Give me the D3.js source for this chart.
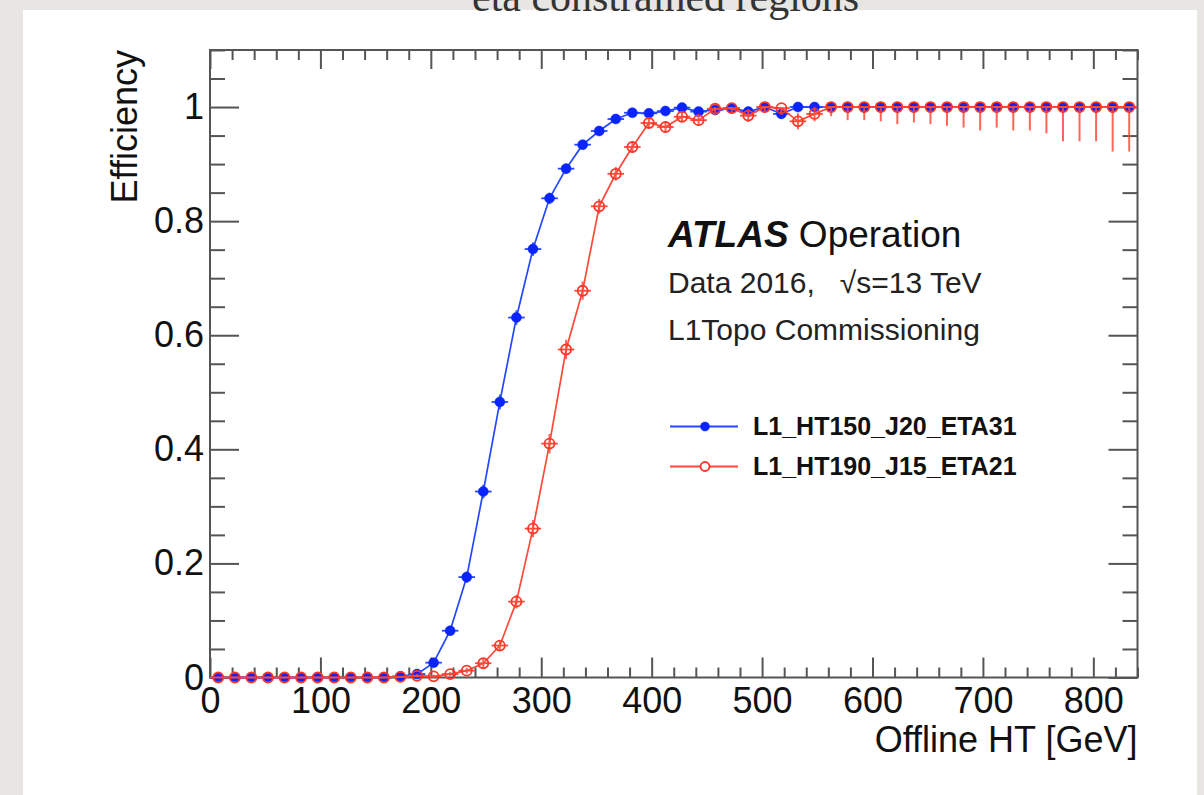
<!DOCTYPE html>
<html>
<head>
<meta charset="utf-8">
<script src="https://cdn.jsdelivr.net/npm/d3@7"></script>
<style>
  html, body { margin: 0; padding: 0; background: #e8e6e2; }
  svg { display: block; }
  text { font-family: "Liberation Sans", Arial, Helvetica, sans-serif; fill: #111; }
</style>
</head>
<body>
<svg id="chart" width="1204" height="795"></svg>
<script>
// ---- data ----
const htBins = [7.5,22.5,37.5,52.5,67.5,82.5,97.5,112.5,127.5,142.5,157.5,172.5,187.5,202.5,217.5,232.5,247.5,262.5,277.5,292.5,307.5,322.5,337.5,352.5,367.5,382.5,397.5,412.5,427.5,442.5,457.5,472.5,487.5,502.5,517.5,532.5,547.5,562.5,577.5,592.5,607.5,622.5,637.5,652.5,667.5,682.5,697.5,712.5,727.5,742.5,757.5,772.5,787.5,802.5,817.5,832.5];
const binHalfWidth = 7.5;

const effHT150 = [0,0,0,0,0,0,0,0,0,0,0,
  0.002,0.006,0.026,0.082,0.176,0.326,0.483,0.631,0.751,0.840,0.892,0.934,0.958,0.979,0.990,0.989,0.993,0.999,0.992,0.995,0.998,0.992,1.0,0.988,1.0,
  1,1,1,1,1,1,1,1,1,1,1,1,1,1,1,1,1,1,1,1];
const errHT150 = [0.001,0.001,0.001,0.001,0.001,0.001,0.001,0.001,0.001,0.001,0.001,
  0.002,0.003,0.005,0.008,0.010,0.012,0.013,0.013,0.012,0.010,0.009,0.008,0.006,0.005,
  0.004,0.004,0.004,0.004,0.004,0.004,0.004,0.004,0.004,0.004,0.004,
  0.005,0.005,0.005,0.005,0.005,0.005,0.005,0.005,0.005,0.005,0.005,0.005,0.005,0.005,0.005,0.005,0.005,0.005,0.005,0.005];

const effHT190 = [0,0,0,0,0,0,0,0,0,0,0,
  0.001,0.003,0.002,0.006,0.012,0.025,0.056,0.133,0.261,0.410,0.575,0.678,0.826,0.883,0.930,0.972,0.965,0.983,0.977,0.997,0.998,0.985,1.0,0.998,0.975,0.988,
  1,1,1,1,1,1,1,1,1,1,1,1,1,1,1,1,1,1,1];
const errHT190 = [0.001,0.001,0.001,0.001,0.001,0.001,0.001,0.001,0.001,0.001,0.001,
  0.002,0.003,0.003,0.004,0.005,0.007,0.009,0.012,0.015,0.017,0.017,0.016,0.013,0.012,0.010,
  0.009,0.010,0.009,0.010,0.008,0.008,0.011,0.010,0.012,0.014,0.013,
  0.016,0.023,0.023,0.025,0.030,0.027,0.030,0.033,0.036,0.041,0.036,0.041,0.041,0.046,0.060,0.060,0.060,0.078,0.078];

const seriesNames = ["L1_HT150_J20_ETA31", "L1_HT190_J15_ETA21"];
const xMajorTicks = [0,100,200,300,400,500,600,700,800];
const xTickLabels = ["0","100","200","300","400","500","600","700","800"];
const yMajorTicks = [0,0.2,0.4,0.6,0.8,1];
const yTickLabels = ["0","0.2","0.4","0.6","0.8","1"];

// ---- layout ----
const svg = d3.select("#chart");
const W = 1204, H = 795;
const L = 210, R = 1137.5, T = 50, B = 677.5;
const blue = "#0a24ff", blueLine = "#2448ff";
const red = "#ff3526", redLine = "#ff4a3a";

svg.append("rect").attr("x", 0).attr("y", 0).attr("width", W).attr("height", H).attr("fill", "#e8e6e2");
svg.append("rect").attr("x", 23).attr("y", 10).attr("width", 1174).attr("height", H - 10).attr("fill", "#ffffff");

svg.append("text").attr("x", 472).attr("y", 11)
  .style("font-family", "'Liberation Serif', 'DejaVu Serif', serif")
  .style("font-size", "42px").style("fill", "#333")
  .text("eta constrained regions");

const x = d3.scaleLinear().domain([0, 840]).range([L, R]);
const y = d3.scaleLinear().domain([0, 1.1]).range([B, T]);

const xMinor = d3.range(0, 841, 20).filter(v => v % 100 !== 0);
const yMinor = d3.range(0, 1.1001, 0.05).map(v => +v.toFixed(2)).filter(v => Math.abs(v*5 - Math.round(v*5)) > 1e-6);

function styleAxis(g) {
  g.select(".domain").remove();
  g.selectAll(".tick line").attr("stroke", "#555").attr("stroke-width", 2);
  g.selectAll("text").style("font-size", "36px").style("fill", "#111").attr("font-family", null);
}

svg.append("g").attr("transform", `translate(0,${B})`)
  .call(d3.axisBottom(x).tickValues(xMajorTicks).tickFormat((d,i) => xTickLabels[i]).tickSizeInner(-20).tickSizeOuter(0).tickPadding(10))
  .call(styleAxis);
svg.append("g").attr("transform", `translate(0,${B})`)
  .call(d3.axisBottom(x).tickValues(xMinor).tickFormat("").tickSizeInner(-10).tickSizeOuter(0))
  .call(styleAxis);
svg.append("g").attr("transform", `translate(0,${T})`)
  .call(d3.axisTop(x).tickValues(xMajorTicks).tickFormat("").tickSizeInner(-19).tickSizeOuter(0))
  .call(styleAxis);
svg.append("g").attr("transform", `translate(0,${T})`)
  .call(d3.axisTop(x).tickValues(xMinor).tickFormat("").tickSizeInner(-10).tickSizeOuter(0))
  .call(styleAxis);
svg.append("g").attr("transform", `translate(${L},0)`)
  .call(d3.axisLeft(y).tickValues(yMajorTicks).tickFormat((d,i) => yTickLabels[i]).tickSizeInner(-29).tickSizeOuter(0).tickPadding(6))
  .call(styleAxis);
svg.append("g").attr("transform", `translate(${L},0)`)
  .call(d3.axisLeft(y).tickValues(yMinor).tickFormat("").tickSizeInner(-15).tickSizeOuter(0))
  .call(styleAxis);
svg.append("g").attr("transform", `translate(${R},0)`)
  .call(d3.axisRight(y).tickValues(yMajorTicks).tickFormat("").tickSizeInner(-29).tickSizeOuter(0))
  .call(styleAxis);
svg.append("g").attr("transform", `translate(${R},0)`)
  .call(d3.axisRight(y).tickValues(yMinor).tickFormat("").tickSizeInner(-15).tickSizeOuter(0))
  .call(styleAxis);

svg.append("rect").attr("x", L).attr("y", T).attr("width", R - L).attr("height", B - T)
  .attr("fill", "none").attr("stroke", "#555").attr("stroke-width", 2);

svg.append("text").attr("x", R).attr("y", 752).attr("text-anchor", "end")
  .style("font-size", "36px").text("Offline HT [GeV]");
svg.append("text").attr("transform", `translate(137,${T}) rotate(-90)`).attr("text-anchor", "end")
  .style("font-size", "36px").text("Efficiency");

// ---- series ----
function drawSeries(vals, errs, lineColor, markColor, filled) {
  const pts = htBins.map((c, i) => ({c, v: vals[i], e: errs[i]}));
  const g = svg.append("g");
  g.append("path").datum(pts)
    .attr("d", d3.line().x(d => x(d.c)).y(d => y(d.v)))
    .attr("fill", "none").attr("stroke", lineColor).attr("stroke-width", 1.7);
  g.selectAll(".xe").data(pts).enter().append("line")
    .attr("x1", d => x(d.c - binHalfWidth)).attr("x2", d => x(d.c + binHalfWidth))
    .attr("y1", d => y(d.v)).attr("y2", d => y(d.v))
    .attr("stroke", lineColor).attr("stroke-width", 1.8);
  g.selectAll(".ye").data(pts).enter().append("line")
    .attr("x1", d => x(d.c)).attr("x2", d => x(d.c))
    .attr("y1", d => y(Math.max(0, d.v - d.e))).attr("y2", d => y(Math.min(1, d.v + d.e)))
    .attr("stroke", lineColor).attr("stroke-width", 2).attr("stroke-opacity", 0.85);
  g.selectAll(".mk").data(pts).enter().append("circle")
    .attr("cx", d => x(d.c)).attr("cy", d => y(d.v))
    .attr("r", 5)
    .attr("fill", filled ? markColor : "none")
    .attr("stroke", markColor).attr("stroke-width", filled ? 0.5 : 1.8);
}
drawSeries(effHT150, errHT150, blueLine, blue, true);
drawSeries(effHT190, errHT190, redLine, red, false);

// ---- labels ----
const lab = svg.append("g");
const t1 = lab.append("text").attr("x", 668).attr("y", 247).style("font-size", "37px");
t1.append("tspan").style("font-weight", "bold").style("font-style", "italic").text("ATLAS");
t1.append("tspan").text("\u00a0Operation");
lab.append("text").attr("x", 668).attr("y", 293).style("font-size", "30px").style("fill", "#222")
  .text("Data 2016,\u00a0\u00a0\u00a0\u221As=13 TeV");
lab.append("text").attr("x", 668).attr("y", 340).style("font-size", "30px").style("fill", "#222")
  .text("L1Topo Commissioning");

const legY = [426.5, 466.5];
const legColors = [[blueLine, blue, true], [redLine, red, false]];
seriesNames.forEach((name, i) => {
  const [lc, mc, filled] = legColors[i];
  lab.append("line").attr("x1", 670).attr("x2", 738).attr("y1", legY[i]).attr("y2", legY[i])
    .attr("stroke", lc).attr("stroke-width", 1.8);
  lab.append("circle").attr("cx", 705).attr("cy", legY[i]).attr("r", 4.5)
    .attr("fill", filled ? mc : "#fff").attr("stroke", mc).attr("stroke-width", filled ? 0.5 : 1.8);
  lab.append("text").attr("x", 753).attr("y", legY[i] + 8.5)
    .style("font-size", "25px").style("font-weight", "bold").text(name);
});
</script>
</body>
</html>
